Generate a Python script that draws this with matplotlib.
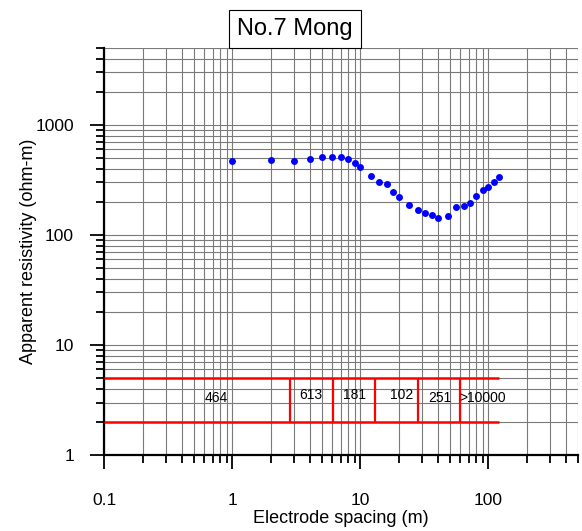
import numpy as np
import matplotlib.pyplot as plt
from matplotlib.ticker import FixedLocator, LogLocator, NullFormatter

plt.rcParams['font.family'] = ['Liberation Sans', 'DejaVu Sans']

# sounding curve: electrode spacing (m) vs apparent resistivity (ohm-m)
spacing = [1, 2, 3, 4, 5, 6, 7, 8, 9, 10, 12, 14, 16, 18, 20, 24, 28, 32,
           36, 40, 48, 56, 64, 72, 80, 90, 100, 110, 120]
resistivity = [466, 483, 469, 489, 510, 510, 507, 489, 447, 414, 341, 302,
               288, 248, 219, 189, 168, 158, 152, 142, 150, 179, 184, 197,
               228, 256, 270, 302, 338]

# layered model: interface depths and layer resistivities
layer_bounds = [0.1, 2.83, 6.1, 13.0, 28.2, 60.4, 120]
layer_res = ['464', '613', '181', '102', '251', '>10000']
label_x = [0.75, 4.13, 9.0, 20.8, 41.9, 90.1]
label_y = [3.3, 3.52, 3.52, 3.52, 3.3, 3.3]
band_lo, band_hi = 2, 5

x_major = [0.1, 1, 10, 100]
y_major = [1, 10, 100, 1000]

fig = plt.figure(figsize=(5.82, 5.31), dpi=100)
ax = fig.add_axes([0.1795, 0.1431, 0.8135, 0.7665])
ax.set_xscale('log')
ax.set_yscale('log')
ax.set_xlim(0.1, 500)
ax.set_ylim(1, 5000)

ax.xaxis.set_major_locator(FixedLocator(x_major))
ax.yaxis.set_major_locator(FixedLocator(y_major))
ax.set_xticklabels([f'{v:g}' for v in x_major])
ax.set_yticklabels([f'{v:g}' for v in y_major])
ax.xaxis.set_minor_locator(LogLocator(base=10, subs=np.arange(2, 10), numticks=20))
ax.yaxis.set_minor_locator(LogLocator(base=10, subs=np.arange(2, 10), numticks=20))
ax.xaxis.set_minor_formatter(NullFormatter())
ax.yaxis.set_minor_formatter(NullFormatter())

ax.grid(True, which='both', color='#7a7a7a', linewidth=0.8)
ax.set_axisbelow(True)

ax.tick_params(which='major', direction='out', length=10, width=1.3,
               labelsize=12.5, color='black')
ax.tick_params(axis='x', which='major', pad=17)
ax.tick_params(axis='y', which='major', pad=12)
ax.tick_params(which='minor', direction='out', length=5.5, width=1.3, color='black')

for side in ['top', 'right']:
    ax.spines[side].set_visible(False)
for side in ['left', 'bottom']:
    ax.spines[side].set_linewidth(1.6)

# model layers drawn as a red band
ax.hlines([band_hi, band_lo], layer_bounds[0], layer_bounds[-1], color='red', lw=1.8, zorder=3)
ax.vlines(layer_bounds[1:-1], band_lo, band_hi, color='red', lw=1.6, zorder=3)
for lx, ly, txt in zip(label_x, label_y, layer_res):
    ax.text(lx, ly, txt, ha='center', va='center', fontsize=10, zorder=4)

ax.plot(spacing, resistivity, 'o', color='#0000ff', markersize=5,
        markeredgewidth=0, zorder=5, clip_on=False)

ax.set_xlabel('Electrode spacing (m)', fontsize=13, labelpad=2)
ax.set_ylabel('Apparent resistivity (ohm-m)', fontsize=13, labelpad=-1)

ax.annotate('No.7 Mong', xy=(0.402, 1.0), xycoords='axes fraction',
            xytext=(0, 5.5), textcoords='offset points',
            ha='center', va='bottom', fontsize=17,
            bbox=dict(boxstyle='square,pad=0.34', fc='white', ec='black', lw=0.8))

fig.savefig('out.png', dpi=100)
